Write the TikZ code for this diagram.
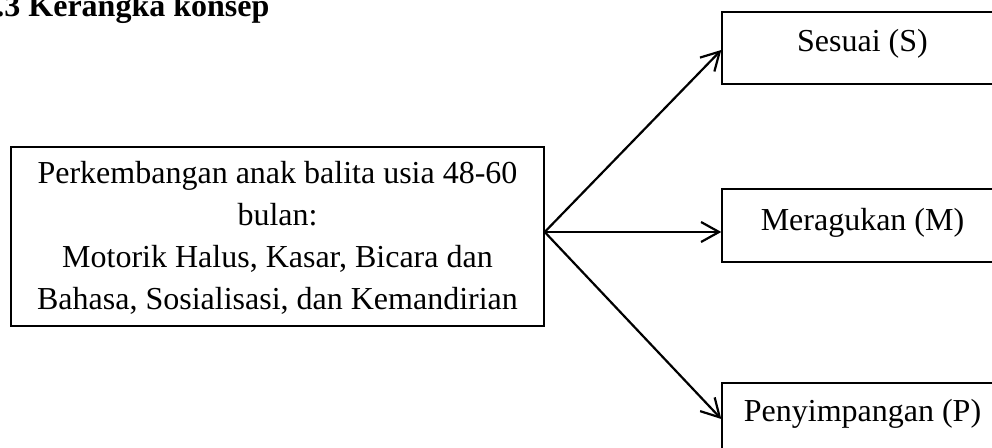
\documentclass[tikz,border=0pt]{standalone}
\usepackage{fontspec}
\setmainfont{Liberation Serif}
\usetikzlibrary{arrows.meta}
\begin{document}
\begin{tikzpicture}[x=0.5pt,y=-0.5pt,
  box/.style={draw, line width=0.7pt, inner sep=0pt, rectangle},
  txt/.style={inner sep=0pt, font=\fontsize{16pt}{21pt}\selectfont},
  conn/.style={line width=1.1pt, -{Straight Barb[length=9pt,width=10pt,line width=1.1pt]}}]
\useasboundingbox (0,0) rectangle (992,448);
% title (partly cut at the left edge)
\node[txt, anchor=base west, font=\fontsize{16pt}{21pt}\selectfont\bfseries] (title) at (-20,17) {3.3 Kerangka konsep};
% main box
\node[box, minimum width=266.5pt, minimum height=89.5pt] (main) at (277.5,236.5) {};
\node[txt, align=center] (maintxt) at (277.5,238) {Perkembangan anak balita usia 48-60\\bulan:\\Motorik Halus, Kasar, Bicara dan\\Bahasa, Sosialisasi, dan Kemandirian};
% right boxes
\node[box, minimum width=140.5pt, minimum height=36pt] (S) at (862.5,48) {};
\node[txt, anchor=base] (Stxt) at (862.5,52) {Sesuai (S)};
\node[box, minimum width=140.5pt, minimum height=36.5pt] (M) at (862.5,225.5) {};
\node[txt, anchor=base] (Mtxt) at (862.5,231) {Meragukan (M)};
\node[box, minimum width=140.5pt, minimum height=36pt] (P) at (862.5,419) {};
\node[txt, anchor=base] (Ptxt) at (862.5,422) {Penyimpangan (P)};
% connectors
\coordinate (src) at ([yshift=2.25pt]main.east);
\draw[conn] (src) -- ([yshift=-1pt]S.west);
\draw[conn] (src) -- (src -| M.west);
\draw[conn] (src) -- (P.west);
\end{tikzpicture}
\end{document}
